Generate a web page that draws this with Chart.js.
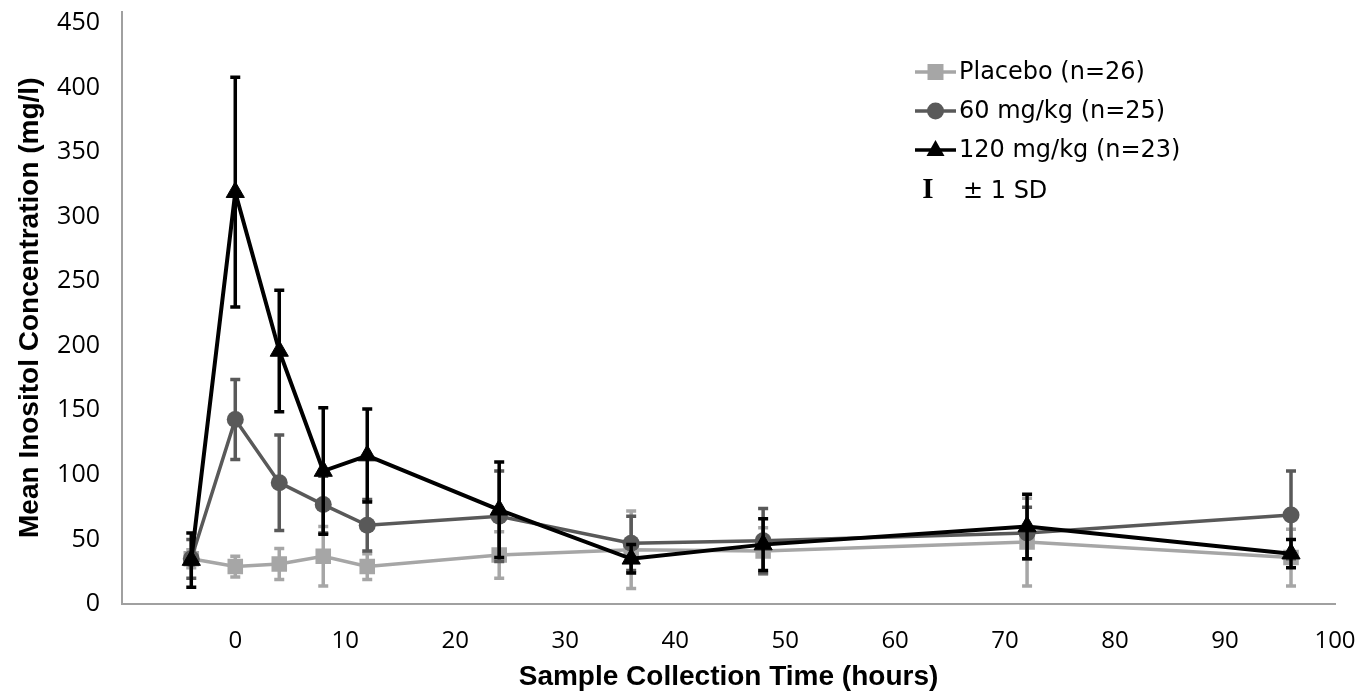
<!DOCTYPE html>
<html>
<head>
<meta charset="utf-8">
<script src="https://cdn.jsdelivr.net/npm/chart.js@4.4.1/dist/chart.umd.min.js"></script>
<style>
  html, body { margin: 0; padding: 0; background: #ffffff; }
  #wrap { width: 1372px; height: 694px; position: relative; }
</style>
</head>
<body>
<div id="wrap"><canvas id="c"></canvas></div>
<script>
// ---- Data ----
const times = [-4, 0, 4, 8, 12, 24, 36, 48, 72, 96];
const placeboMean = [35, 29, 31, 37, 29, 38, 42, 41, 48, 36];
const placeboSD   = [7, 8, 12, 23, 10, 18, 30, 18, 34, 22];
const mg60Mean    = [35, 143, 94, 77, 61, 68, 47, 49, 55, 69];
const mg60SD      = [15, 31, 37, 22, 20, 35, 21, 25, 20, 34];
const mg120Mean   = [34, 319, 196, 103, 115, 73, 35, 46, 60, 39];
const mg120SD     = [21, 89, 47, 49, 36, 37, 11, 20, 25, 11];
const seriesLabels = ['Placebo (n=26)', '60 mg/kg (n=25)', '120 mg/kg (n=23)'];
const sdLabel = '\u00B1 1 SD';
const xTickValues = [0, 10, 20, 30, 40, 50, 60, 70, 80, 90, 100];
const yTickValues = [0, 50, 100, 150, 200, 250, 300, 350, 400, 450];
const xTitle = 'Sample Collection Time (hours)';
const yTitle = 'Mean Inositol Concentration (mg/l)';

const colPlacebo = '#a6a6a6';
const col60 = '#595959';
const col120 = '#000000';

function pts(means) { return times.map((t, i) => ({ x: t, y: means[i] })); }

const errorBars = {
  id: 'errorBars',
  beforeDatasetDraw(chart, args) {
    const ds = chart.data.datasets[args.index];
    if (!ds.sd) return;
    const xs = chart.scales.x, ys = chart.scales.y, ctx = chart.ctx;
    ctx.save();
    ctx.strokeStyle = ds.borderColor;
    ctx.lineWidth = 3.5;
    ctx.lineCap = 'butt';
    ds.data.forEach((p, i) => {
      const x = xs.getPixelForValue(p.x);
      const yt = ys.getPixelForValue(p.y + ds.sd[i]);
      const yb = ys.getPixelForValue(Math.max(0, p.y - ds.sd[i]));
      const cw = 5;
      ctx.beginPath();
      ctx.moveTo(x, yt); ctx.lineTo(x, yb);
      ctx.moveTo(x - cw, yt); ctx.lineTo(x + cw, yt);
      ctx.moveTo(x - cw, yb); ctx.lineTo(x + cw, yb);
      ctx.stroke();
    });
    ctx.restore();
  }
};

function drawMarker(ctx, style, x, y, color) {
  ctx.fillStyle = color;
  ctx.beginPath();
  if (style === 'rect') {
    ctx.rect(x - 8, y - 8, 16, 16);
  } else if (style === 'circle') {
    ctx.arc(x, y, 8.5, 0, Math.PI * 2);
  } else {
    ctx.moveTo(x, y - 10);
    ctx.lineTo(x + 9, y + 6);
    ctx.lineTo(x - 9, y + 6);
    ctx.closePath();
  }
  ctx.fill();
}

const customLegend = {
  id: 'customLegend',
  afterDraw(chart) {
    const ctx = chart.ctx;
    const items = [
      { label: seriesLabels[0], color: colPlacebo, style: 'rect', y: 72 },
      { label: seriesLabels[1], color: col60, style: 'circle', y: 111 },
      { label: seriesLabels[2], color: col120, style: 'triangle', y: 150 }
    ];
    ctx.save();
    items.forEach(it => {
      ctx.strokeStyle = it.color;
      ctx.lineWidth = 3.5;
      ctx.beginPath();
      ctx.moveTo(915, it.y); ctx.lineTo(956, it.y);
      ctx.stroke();
      drawMarker(ctx, it.style, 935.5, it.y, it.color);
      ctx.fillStyle = '#000';
      ctx.font = '24px "DejaVu Sans"';
      ctx.textBaseline = 'middle';
      ctx.textAlign = 'left';
      ctx.fillText(it.label, 959, it.y + 1);
    });
    ctx.fillStyle = '#000';
    ctx.font = 'bold 29px "Liberation Serif"';
    ctx.textBaseline = 'middle';
    ctx.textAlign = 'center';
    ctx.fillText('I', 928, 191);
    ctx.font = '24px "DejaVu Sans"';
    ctx.textAlign = 'left';
    ctx.fillText(sdLabel, 963, 192);
    ctx.restore();
  }
};

new Chart(document.getElementById('c'), {
  type: 'line',
  data: {
    datasets: [
      {
        label: seriesLabels[2], data: pts(mg120Mean), sd: mg120SD,
        borderColor: col120, backgroundColor: col120, borderWidth: 4,
        pointStyle: 'triangle', pointRadius: 10.5, pointBorderWidth: 1,
        pointBackgroundColor: col120, pointBorderColor: col120, order: 1
      },
      {
        label: seriesLabels[1], data: pts(mg60Mean), sd: mg60SD,
        borderColor: col60, backgroundColor: col60, borderWidth: 3.5,
        pointStyle: 'circle', pointRadius: 8.5, pointBorderWidth: 0,
        pointBackgroundColor: col60, pointBorderColor: col60, order: 2
      },
      {
        label: seriesLabels[0], data: pts(placeboMean), sd: placeboSD,
        borderColor: colPlacebo, backgroundColor: colPlacebo, borderWidth: 3.5,
        pointStyle: 'rect', pointRadius: 11, pointBorderWidth: 0,
        pointBackgroundColor: colPlacebo, pointBorderColor: colPlacebo, order: 3
      }
    ]
  },
  options: {
    responsive: true,
    maintainAspectRatio: false,
    devicePixelRatio: 1,
    animation: false,
    layout: { padding: { top: 10, right: 37, left: 0, bottom: 0 } },
    plugins: { legend: { display: false }, tooltip: { enabled: false } },
    elements: { line: { tension: 0 } },
    scales: {
      x: {
        type: 'linear', min: -10.3, max: 100,
        afterBuildTicks: s => { s.ticks = xTickValues.map(v => ({ value: v })); },
        afterFit: s => { s.height = 90; s.paddingLeft = 0; s.paddingRight = 0; },
        grid: { display: false, drawTicks: false },
        border: { display: true, color: '#a0a0a0', width: 2 },
        ticks: { padding: 23, color: '#000', font: { family: '"Open Sans"', size: 24 }, maxRotation: 0, autoSkip: false },
        title: { display: true, text: xTitle, color: '#000', font: { family: '"Liberation Sans"', size: 28, weight: 'bold' }, padding: { top: 0, bottom: 0 } }
      },
      y: {
        type: 'linear', min: 0, max: 459,
        afterBuildTicks: s => { s.ticks = yTickValues.map(v => ({ value: v })); },
        afterFit: s => { s.width = 122; s.paddingTop = 0; s.paddingBottom = 0; },
        grid: { display: false, drawTicks: false },
        border: { display: true, color: '#a0a0a0', width: 2 },
        ticks: { padding: 22, color: '#000', font: { family: '"Open Sans"', size: 25 } },
        title: { display: true, text: yTitle, color: '#000', font: { family: '"Liberation Sans"', size: 28, weight: 'bold' }, padding: { top: 13, bottom: 0 } }
      }
    }
  },
  plugins: [errorBars, customLegend]
});
</script>
</body>
</html>
